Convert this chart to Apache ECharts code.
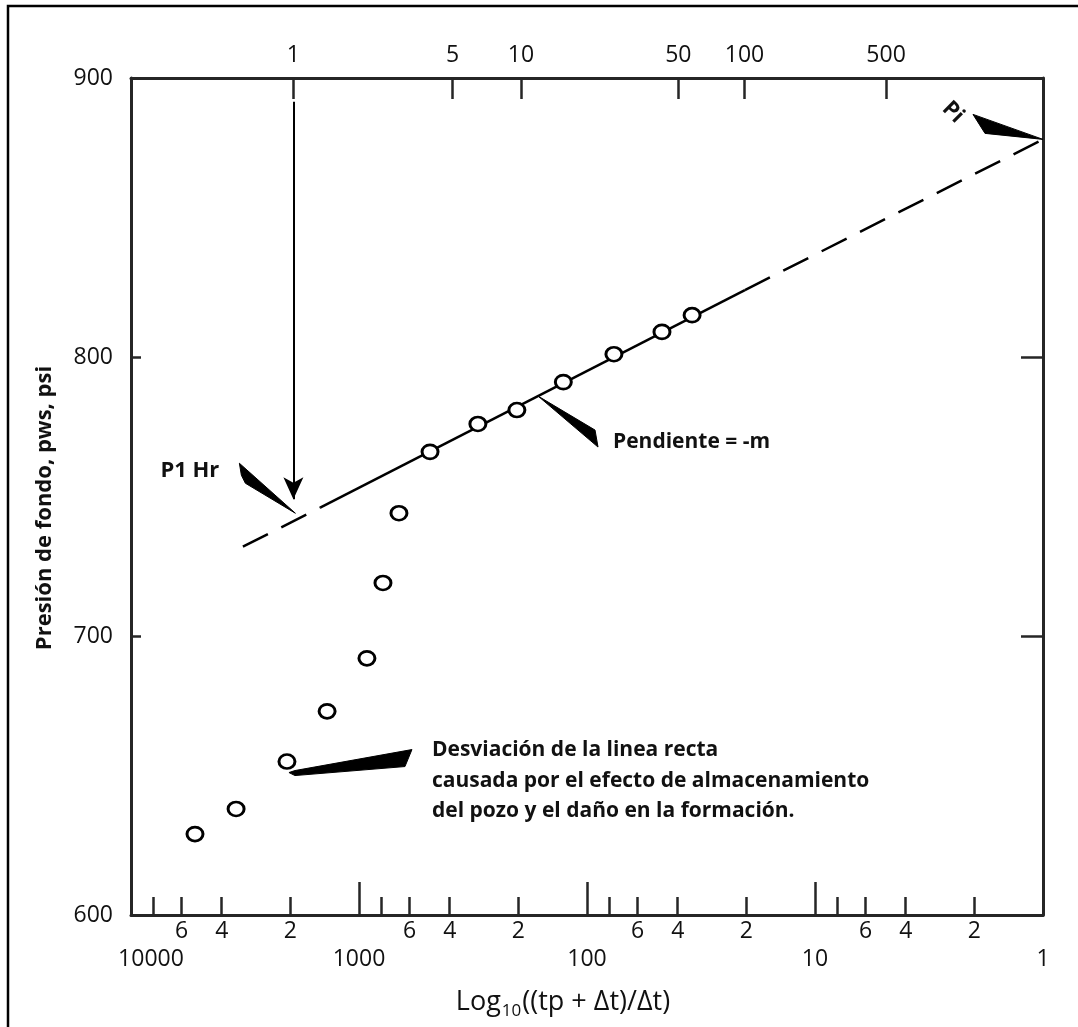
<!DOCTYPE html>
<html><head><meta charset="utf-8">
<script src="https://cdn.jsdelivr.net/npm/echarts@6/dist/echarts.min.js"></script>
<style>html,body{margin:0;padding:0;background:#fff;}#c{width:1078px;height:1027px;}</style>
</head><body><div id="c"></div>
<script>
// ---------- data ----------
const hornerTime = [5240, 3460, 2070, 1380, 923, 785, 668, 488, 301, 203, 127, 76.2, 46.9, 34.6];
const pws        = [629, 638, 655, 673, 692, 719, 744, 766, 776, 781, 791, 801, 809, 815];
const lineX = [3230, 1480, 20.3, 1];
const lineP = [732, 746, 824, 878];
const producingTime = 1939;                 // tp, hours
const shutInTicks = [1, 5, 10, 50, 100, 500]; // top axis, Δt hours
const bottomMinorTicks  = [8000,6000,4000,2000,800,600,400,200,80,60,40,20,8,6,4,2];
const bottomMinorLabels = [6000,4000,2000,600,400,200,60,40,20,6,4,2];
const bottomMajorTicks  = [1000,100,10];
const bottomMajorLabels = [10000,1000,100,10,1];
const yMin = 600, yMax = 900, yStep = 100;
const yName = 'Presión de fondo, pws, psi';
const xNameParts = ['Log', '10', '((tp + Δt)/Δt)'];
const noteP1 = 'P1 Hr';
const noteSlope = 'Pendiente = -m';
const notePi = 'Pi';
const noteDev = ['Desviación de la linea recta', 'causada por el efecto de almacenamiento', 'del pozo y el daño en la formación.'];
const p1Pressure = 744;      // where the 1-hr pointer touches the line
const slopeAnchor = [164, 786];
const piPressure = 878;
const arrowTopP = 891.5, arrowTipP = 749;

// ---------- chart ----------
const FONT = '"Open Sans", "Noto Sans", sans-serif';
const AX = '#262626';
const TICKFS = 23;
const topX = shutInTicks.map(dt => (producingTime + dt) / dt);
const xy = (xs, ys) => xs.map((x, i) => [x, ys[i]]);
const leadDigit = v => Math.round(v / Math.pow(10, Math.floor(Math.log10(v) + 1e-9)));

const baseX = {type: 'log', logBase: 10, min: 1, max: 10000, inverse: true, splitLine: {show: false}, minorTick: {show: false}};
const chart = echarts.init(document.getElementById('c'), null, {renderer: 'canvas'});
const option = {
  animation: false,
  backgroundColor: '#fff',
  grid: {left: 131, right: 35, top: 78, bottom: 112, containLabel: false, outerBoundsMode: 'none'},
  xAxis: [
    Object.assign({}, baseX, {
      position: 'bottom',
      axisLine: {show: true, onZero: false, lineStyle: {color: AX, width: 3}},
      axisTick: {show: true, inside: true, length: 18, customValues: bottomMinorTicks, lineStyle: {color: AX, width: 2.5}},
      axisLabel: {show: true, customValues: bottomMinorLabels, formatter: v => String(leadDigit(v)), margin: 5, fontSize: TICKFS, fontFamily: FONT, color: '#111'}
    }),
    Object.assign({}, baseX, {
      position: 'bottom',
      axisLine: {show: false},
      axisTick: {show: true, inside: true, length: 33, customValues: bottomMajorTicks, lineStyle: {color: AX, width: 2.5}},
      axisLabel: {show: true, customValues: bottomMajorLabels, margin: 33, fontSize: TICKFS, fontFamily: FONT, color: '#111',
        formatter: v => (Math.round(v) === 10000 ? '{l|10000}' : String(Math.round(v))),
        rich: {l: {fontSize: TICKFS, fontFamily: FONT, color: '#111', padding: [0, 0, 0, 40]}}}
    }),
    Object.assign({}, baseX, {
      position: 'top',
      axisLine: {show: true, onZero: false, lineStyle: {color: AX, width: 3}},
      axisTick: {show: true, inside: true, length: 21, customValues: topX, lineStyle: {color: AX, width: 2.5}},
      axisLabel: {show: true, customValues: topX, margin: 11, fontSize: TICKFS, fontFamily: FONT, color: '#111',
        formatter: v => String(Math.round(producingTime / (v - 1)))}
    })
  ],
  yAxis: [
    {type: 'value', position: 'left', min: yMin, max: yMax, interval: yStep, splitLine: {show: false},
      axisLine: {show: true, onZero: false, lineStyle: {color: AX, width: 3}},
      axisTick: {show: true, inside: true, length: 10, lineStyle: {color: AX, width: 2.5}},
      axisLabel: {margin: 18, fontSize: TICKFS, fontFamily: FONT, color: '#111'}},
    {type: 'value', position: 'right', min: yMin, max: yMax, interval: yStep, splitLine: {show: false},
      axisLine: {show: true, onZero: false, lineStyle: {color: AX, width: 3}},
      axisTick: {show: true, inside: true, length: 22, lineStyle: {color: AX, width: 2.5}},
      axisLabel: {show: false}}
  ],
  series: [
    {type: 'line', xAxisIndex: 0, yAxisIndex: 0, silent: true, showSymbol: false, symbol: 'none', z: 2,
      data: xy(lineX.slice(0, 2), lineP.slice(0, 2)), lineStyle: {color: '#000', width: 2.5, type: [28, 15]}},
    {type: 'line', xAxisIndex: 0, yAxisIndex: 0, silent: true, showSymbol: false, symbol: 'none', z: 2,
      data: xy(lineX.slice(1, 3), lineP.slice(1, 3)), lineStyle: {color: '#000', width: 2.5, type: 'solid'}},
    {type: 'line', xAxisIndex: 0, yAxisIndex: 0, silent: true, showSymbol: false, symbol: 'none', z: 2,
      data: xy(lineX.slice(2, 4), lineP.slice(2, 4)), lineStyle: {color: '#000', width: 2.5, type: [28, 15]}},
    {type: 'scatter', xAxisIndex: 0, yAxisIndex: 0, silent: true, z: 5,
      data: xy(hornerTime, pws), symbol: 'circle', symbolSize: [16, 14],
      itemStyle: {color: '#fff', borderColor: '#000', borderWidth: 2.8, opacity: 1},
      markLine: {silent: true, symbol: ['none', 'arrow'], symbolSize: [15, 22], label: {show: false},
        lineStyle: {color: '#000', width: 2, type: 'solid', opacity: 1},
        data: [[{coord: [producingTime + 1, arrowTopP]}, {coord: [producingTime + 1, arrowTipP]}]]}}
  ]
};
chart.setOption(option);

// ---------- annotations anchored to data positions ----------
const px = d => chart.convertToPixel({xAxisIndex: 0, yAxisIndex: 0}, d);
const poly = (o, pts) => ({type: 'polygon', silent: true, z: 10, shape: {points: pts.map(p => [o[0] + p[0], o[1] + p[1]])}, style: {fill: '#000', stroke: '#000', lineWidth: 1}});
const txt = (x, y, t, font, extra) => Object.assign({type: 'text', silent: true, z: 10, x: x, y: y,
  style: {text: t, font: font, fill: '#111', align: 'left', verticalAlign: 'middle', textAlign: 'left', textVerticalAlign: 'middle'}}, extra || {});
const BOLD = 'bold 21px ' + FONT;

const aP1 = px([producingTime + 1, p1Pressure]);
const aSl = px(slopeAnchor);
const aDev = px([hornerTime[2], pws[2]]);
const aPi = px([1, piPressure]);

const ctx = document.createElement('canvas').getContext('2d');
const meas = (t, f) => { ctx.font = f; return ctx.measureText(t).width; };
const fBig = '27px ' + FONT, fSub = '17px ' + FONT;
const wLog = meas(xNameParts[0], fBig), wSub = meas(xNameParts[1], fSub), wRest = meas(xNameParts[2], fBig);
const xNameCenter = 562, xNameY = 1002;
const x0 = xNameCenter - (wLog + wSub + wRest) / 2;

const graphics = [
  {type: 'rect', silent: true, z: 0, shape: {x: 8, y: 6, width: 1200, height: 1200}, style: {fill: 'none', stroke: '#000', lineWidth: 2.5}},
  poly(aP1, [[-54, -50], [2, 0], [-48, -30], [-52, -38]]),
  txt(aP1[0] - 133, aP1[1] - 43, noteP1, 'bold 22px ' + FONT),
  poly(aSl, [[0, 0], [57, 34], [60, 51]]),
  txt(aSl[0] + 75, aSl[1] + 46, noteSlope, BOLD),
  poly(aDev, [[2, 11], [8, 9], [125, -12], [118, 5], [8, 14]]),
  txt(aDev[0] + 145, aDev[1] - 12, noteDev[0], BOLD),
  txt(aDev[0] + 145, aDev[1] + 19, noteDev[1], BOLD),
  txt(aDev[0] + 145, aDev[1] + 49, noteDev[2], BOLD),
  poly(aPi, [[0, 0], [-70, -25], [-58, -6]]),
  {type: 'text', silent: true, z: 10, x: aPi[0] - 90, y: aPi[1] - 27, rotation: -Math.PI / 4,
    style: {text: notePi, font: 'bold 22px ' + FONT, fill: '#111', align: 'center', verticalAlign: 'middle', textAlign: 'center', textVerticalAlign: 'middle'}},
  {type: 'text', silent: true, z: 10, x: 45, y: 508, rotation: Math.PI / 2,
    style: {text: yName, font: 'bold 22px ' + FONT, fill: '#111', align: 'center', verticalAlign: 'middle', textAlign: 'center', textVerticalAlign: 'middle'}},
  txt(x0, xNameY, xNameParts[0], fBig),
  txt(x0 + wLog + 1, xNameY + 9, xNameParts[1], fSub),
  txt(x0 + wLog + wSub + 2, xNameY, xNameParts[2], fBig)
];
chart.setOption({graphic: {elements: graphics}});
</script></body></html>
